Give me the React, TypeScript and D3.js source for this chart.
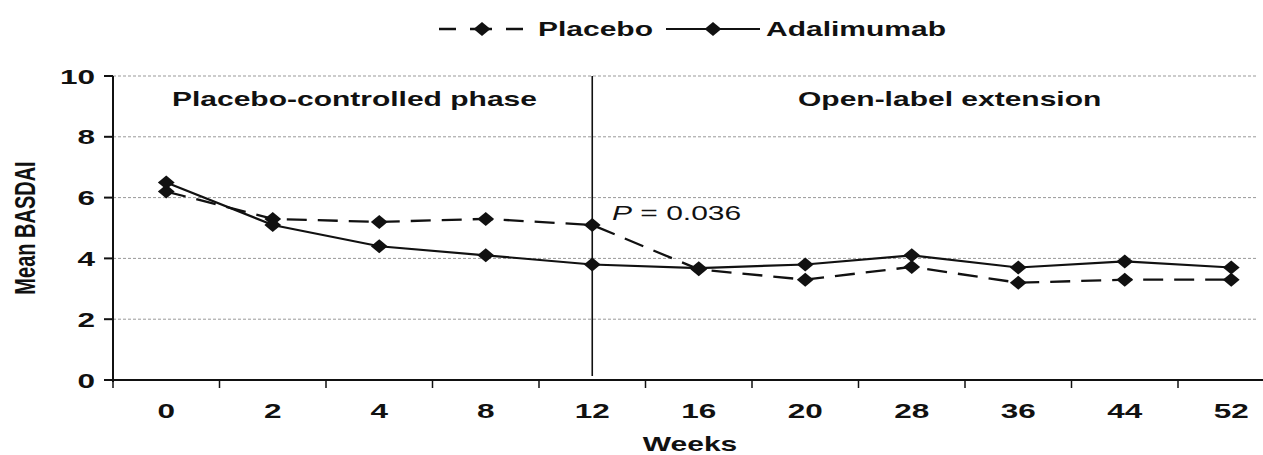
import React, { useEffect, useRef } from 'react';
import * as d3 from 'd3';

// values (mean BASDAI by week)
const weeks = ['0', '2', '4', '8', '12', '16', '20', '28', '36', '44', '52'];
const placebo = [6.2, 5.3, 5.2, 5.3, 5.1, 3.64, 3.3, 3.72, 3.2, 3.3, 3.3];
const adalimumab = [6.5, 5.1, 4.4, 4.1, 3.8, 3.68, 3.8, 4.1, 3.7, 3.9, 3.7];
const yTicks = [0, 2, 4, 6, 8, 10];
const splitWeek = '12';

const FONT = "'Liberation Sans', Arial, sans-serif";
const SX = 1.5; // the source figure is stretched horizontally

const App = () => {
    const chartRef = useRef<SVGSVGElement>(null);

    useEffect(() => {
        document.body.style.margin = '0';
        drawChart();
    }, []);

    const drawChart = () => {
        const width = 1263;
        const height = 455;
        const svg = d3.select(chartRef.current);
        svg.selectAll('*').remove();
        svg.attr('width', width).attr('height', height);

        const x = d3.scaleBand<string>()
            .domain(weeks)
            .range([113, 113 + 11 * 106.5])
            .paddingInner(0)
            .paddingOuter(0);
        const y = d3.scaleLinear().domain([0, 10]).range([380, 76]);
        const cx = (w: string) => (x(w) as number) + x.bandwidth() / 2;

        // stretched text helper
        const label = (px: number, py: number, str: string, opt: any = {}) => {
            const t = svg.append('text')
                .attr('transform', `translate(${px},${py}) scale(${opt.sx ?? SX},1)${opt.rotate ? ` rotate(${opt.rotate})` : ''}`)
                .attr('font-family', FONT)
                .attr('font-size', opt.size ?? 20)
                .attr('font-weight', opt.weight ?? 'bold')
                .attr('text-anchor', opt.anchor ?? 'start')
                .attr('fill', '#111');
            if (opt.dy) t.attr('dy', opt.dy);
            t.text(str);
            return t;
        };

        // gridlines
        svg.selectAll('.grid')
            .data(yTicks.filter(d => d > 0))
            .enter()
            .append('line')
            .attr('x1', 113)
            .attr('x2', 1258)
            .attr('y1', d => y(d))
            .attr('y2', d => y(d))
            .attr('stroke', '#999')
            .attr('stroke-width', 1)
            .attr('stroke-dasharray', '3,2');

        // y axis
        svg.append('line')
            .attr('x1', 113).attr('x2', 113)
            .attr('y1', y(10)).attr('y2', y(0) + 2)
            .attr('stroke', '#111').attr('stroke-width', 2);
        yTicks.forEach(t => {
            svg.append('line')
                .attr('x1', 104).attr('x2', 113)
                .attr('y1', y(t)).attr('y2', y(t))
                .attr('stroke', '#111').attr('stroke-width', 2);
            label(95, y(t), String(t), { anchor: 'end', size: 21, dy: '0.36em' });
        });

        // x axis
        svg.append('line')
            .attr('x1', 104).attr('x2', 1263)
            .attr('y1', y(0)).attr('y2', y(0))
            .attr('stroke', '#111').attr('stroke-width', 2.2);
        weeks.forEach(w => {
            const bx = x(w) as number;
            svg.append('line')
                .attr('x1', bx).attr('x2', bx)
                .attr('y1', y(0)).attr('y2', y(0) + 8)
                .attr('stroke', '#111').attr('stroke-width', 1.5);
            label(cx(w), 418, w, { anchor: 'middle', size: 21 });
        });

        label(690, 451, 'Weeks', { anchor: 'middle' });
        label(35, 228, 'Mean BASDAI', { anchor: 'middle', rotate: -90 });

        // phase divider
        svg.append('line')
            .attr('x1', cx(splitWeek)).attr('x2', cx(splitWeek))
            .attr('y1', y(10)).attr('y2', y(0) - 4)
            .attr('stroke', '#111').attr('stroke-width', 1.6);

        label(172, 106, 'Placebo-controlled phase');
        label(798, 106, 'Open-label extension');

        // p value annotation
        const p = label(612, 220, '', { weight: 'normal', size: 20 });
        p.append('tspan').attr('font-style', 'italic').text('P');
        p.append('tspan').text(' = 0.036');

        // series lines
        const line = d3.line<number>()
            .x((_, i) => cx(weeks[i]))
            .y(d => y(d));

        svg.append('path')
            .datum(placebo)
            .attr('d', line)
            .attr('fill', 'none')
            .attr('stroke', '#111')
            .attr('stroke-width', 2.3)
            .attr('stroke-dasharray', '20,11');

        svg.append('path')
            .datum(adalimumab)
            .attr('d', line)
            .attr('fill', 'none')
            .attr('stroke', '#111')
            .attr('stroke-width', 2.2);

        const diamond = d3.symbol().type(d3.symbolSquare).size(98);
        const marker = (mx: number, my: number) => {
            svg.append('path')
                .attr('d', diamond)
                .attr('transform', `translate(${mx},${my}) scale(1.2,1) rotate(45)`)
                .attr('fill', '#111');
        };
        placebo.forEach((v, i) => marker(cx(weeks[i]), y(v)));
        adalimumab.forEach((v, i) => marker(cx(weeks[i]), y(v)));

        // legend
        const ly = 29;
        svg.append('line')
            .attr('x1', 439).attr('x2', 523)
            .attr('y1', ly).attr('y2', ly)
            .attr('stroke', '#111').attr('stroke-width', 2.5)
            .attr('stroke-dasharray', '17,14,22,14,17');
        marker(482, ly);
        label(538, ly, 'Placebo', { dy: '0.36em' });

        svg.append('line')
            .attr('x1', 666).attr('x2', 760)
            .attr('y1', ly).attr('y2', ly)
            .attr('stroke', '#111').attr('stroke-width', 2.2);
        marker(713, ly);
        label(766, ly, 'Adalimumab', { dy: '0.36em' });
    };

    return (
        <div style={{ width: '100%', height: '100%' }}>
            <svg ref={chartRef} style={{ display: 'block', background: '#fff' }}></svg>
        </div>
    );
};

export default App;
